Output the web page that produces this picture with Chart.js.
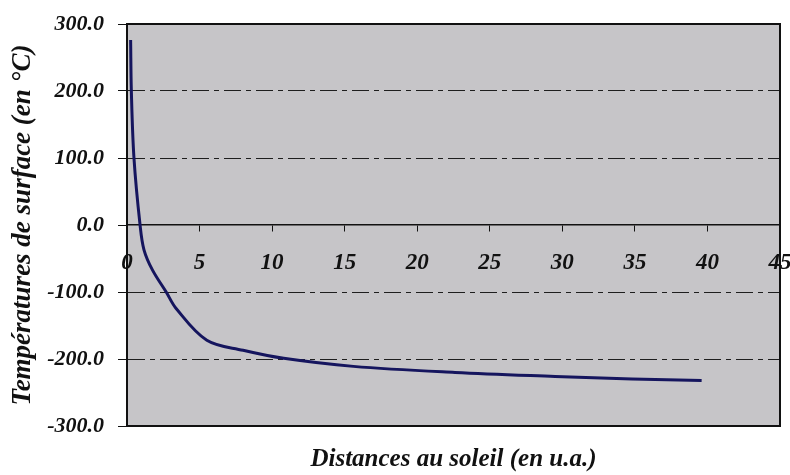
<!DOCTYPE html>
<html>
<head>
<meta charset="utf-8">
<script src="https://cdn.jsdelivr.net/npm/chart.js@4.4.1/dist/chart.umd.min.js"></script>
<style>
    html, body { margin: 0; padding: 0; background: #ffffff; }
    #wrap { width: 790px; height: 475px; }
</style>
</head>
<body>
<div id="wrap"><canvas id="temp-chart" width="790" height="475"></canvas></div>
<script>
// Distances to the sun (u.a.) and surface temperatures (°C)
const distances = [0.25, 0.3, 0.48, 0.9, 1.17, 1.75, 2.7, 3.4, 5.5, 8, 10.8, 15.6, 22.6, 29.5, 34.8, 39.6];
const temperatures = [276, 200, 100, 0, -37, -67, -100, -125, -172, -187, -199, -211, -220, -226, -230, -232];

// Axis setup
const xTicks = [0, 5, 10, 15, 20, 25, 30, 35, 40, 45];
const yTicks = [-300, -200, -100, 0, 100, 200, 300];
const xTitle = "Distances au soleil (en u.a.)";
const yTitle = "Températures de surface (en °C)";

const serif = "'Liberation Serif', 'Times New Roman', serif";
const plotBg = "#c6c5c8";
const inkColor = "#111111";

// Gray plot area background and black frame around it
const plotFrame = {
    id: "plotFrame",
    beforeDraw(chart) {
        const {ctx, chartArea: a} = chart;
        ctx.save();
        ctx.fillStyle = plotBg;
        ctx.fillRect(a.left, a.top, a.right - a.left, a.bottom - a.top);
        ctx.restore();
    },
    afterDraw(chart) {
        const {ctx, chartArea: a} = chart;
        ctx.save();
        ctx.strokeStyle = inkColor;
        ctx.lineWidth = 2;
        ctx.strokeRect(a.left, a.top, a.right - a.left, a.bottom - a.top);
        ctx.restore();
    }
};

const points = distances.map((d, i) => ({x: d, y: temperatures[i]}));

new Chart(document.getElementById("temp-chart"), {
    type: "line",
    data: {
        datasets: [{
            data: points,
            borderColor: "#15155e",
            borderWidth: 3,
            pointRadius: 0,
            fill: false,
            tension: 0.35
        }]
    },
    options: {
        responsive: false,
        animation: false,
        layout: {padding: {left: 0, right: 10, top: 24, bottom: 0}},
        plugins: {
            legend: {display: false},
            tooltip: {enabled: false},
            title: {
                display: true,
                fullSize: false,
                position: "bottom",
                text: xTitle,
                color: inkColor,
                font: {family: serif, size: 25, style: "italic", weight: "bold"},
                padding: {top: 19, bottom: 0}
            }
        },
        scales: {
            x: {
                type: "linear",
                position: {y: 0},
                min: 0,
                max: 45,
                afterBuildTicks: scale => { scale.ticks = xTicks.map(v => ({value: v})); },
                afterFit: scale => { scale.paddingLeft = 0; scale.paddingRight = 0; },
                ticks: {
                    color: inkColor,
                    padding: 18,
                    maxRotation: 0,
                    font: {family: serif, size: 23, style: "italic", weight: "bold"},
                    callback: v => String(v)
                },
                grid: {
                    drawOnChartArea: false,
                    drawTicks: true,
                    tickLength: 6,
                    tickColor: inkColor
                },
                border: {display: true, color: inkColor, width: 1.5}
            },
            y: {
                type: "linear",
                min: -300,
                max: 300,
                afterBuildTicks: scale => { scale.ticks = yTicks.map(v => ({value: v})); },
                afterFit: scale => {
                    scale.width = 127;
                    scale.paddingTop = 0;
                    scale.paddingBottom = 0;
                },
                ticks: {
                    color: inkColor,
                    padding: 14,
                    font: {family: serif, size: 22, style: "italic", weight: "bold"},
                    callback: v => v.toFixed(1)
                },
                grid: {
                    color: c => (c.tick && (c.tick.value === 0 || Math.abs(c.tick.value) === 300)) ? "transparent" : "#1e1e1e",
                    lineWidth: 1,
                    tickLength: 9,
                    tickColor: inkColor,
                    tickBorderDash: []
                },
                border: {display: true, color: inkColor, dash: [17, 5, 5, 5]},
                title: {
                    display: true,
                    text: yTitle,
                    color: inkColor,
                    padding: {top: 7, bottom: 0},
                    font: {family: serif, size: 27, style: "italic", weight: "bold"}
                }
            }
        }
    },
    plugins: [plotFrame]
});
</script>
</body>
</html>
